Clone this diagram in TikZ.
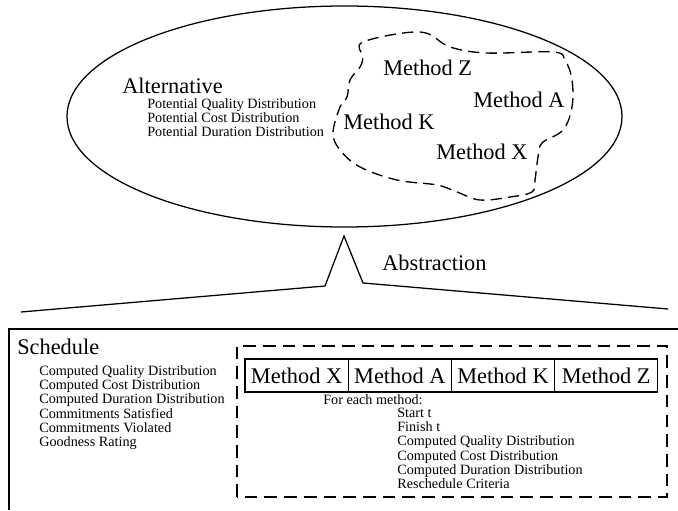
\documentclass[tikz,border=0pt]{standalone}
\usepackage{fontspec}
\setmainfont{Liberation Serif}
\usetikzlibrary{positioning, shapes.geometric}

\tikzset{
  bigtxt/.style={font=\fontsize{15.9}{18}\selectfont, inner sep=0pt},
  smalltxt/.style={font=\fontsize{10.1}{9.96}\selectfont, inner sep=0pt, align=left},
  blobdash/.style={line width=0.95pt, dash pattern=on 8pt off 4.5pt},
  boxdash/.style={line width=0.95pt, dash pattern=on 9pt off 5pt},
  methodbox/.style={draw, line width=0.9pt, font=\fontsize{15.9}{18}\selectfont,
    minimum width=2.58cm, minimum height=0.825cm, inner sep=0pt, outer sep=0pt}
}

\begin{document}
\begin{tikzpicture}
        \useasboundingbox (0,0) rectangle (16.95,12.75);

        % Alternative ellipse
        \node[draw, ellipse, line width=0.9pt, minimum width=13.875cm,
            minimum height=5.525cm] (alt) at (8.6125, 9.8375) {};

        \node[bigtxt, anchor=base west] (altname) at (3.05, 10.4) {Alternative};
        % base of a multi-line node = last line
        \node[smalltxt, anchor=base west] (altlist) at (3.675, 9.325)
            {Potential Quality Distribution\\
             Potential Cost Distribution\\
             Potential Duration Distribution};

        % Dashed cloud of methods
        \draw[blobdash] plot[smooth cycle, tension=0.6] coordinates {
            (9.075, 11.7) (10.5, 11.95) (11.25, 11.575) (12.175, 11.425)
            (13.825, 11.45) (14.125, 11.25) (14.3, 10.75) (14.3, 10.075)
            (14.075, 9.5) (13.55, 9.175) (13.45, 8.825) (13.375, 8.25)
            (13.3, 7.95) (12.75, 7.825) (12.0, 7.75) (11.425, 7.95)
            (10.925, 8.125) (9.925, 8.25) (9.0, 8.575) (8.5, 9.0)
            (8.325, 9.425) (8.5, 10.075) (8.675, 10.325) (8.75, 10.75)
            (9.0, 11.075) (9.075, 11.325)};

        \node[bigtxt, anchor=base west] (cz) at (9.575, 10.85) {Method Z};
        \node[bigtxt, anchor=base west] (ca) at (11.825, 10.05) {Method A};
        \node[bigtxt, anchor=base west] (ck) at (8.575, 9.525) {Method K};
        \node[bigtxt, anchor=base west] (cx) at (10.9, 8.775) {Method X};

        % Abstraction callout
        \coordinate (leftend) at (0.525, 4.95);
        \coordinate (leftfoot) at (8.125, 5.6);
        \coordinate (peak) at (8.6, 6.85);
        \coordinate (rightfoot) at (9.075, 5.675);
        \coordinate (rightend) at (16.7, 5.025);
        \draw[line width=0.9pt] (leftend) -- (leftfoot) -- (peak)
            -- (rightfoot) -- (rightend);
        \node[bigtxt, anchor=base west] (abstr) at (9.55, 6.0) {Abstraction};

        % Schedule box (open at bottom and right)
        \draw[line width=1pt] (0.225, 0) -- (0.225, 4.525) -- (16.95, 4.525);

        \node[bigtxt, anchor=base west] (sched) at (0.425, 3.9) {Schedule};
        \node[smalltxt, anchor=base west] (schedlist) at (0.975, 1.6)
            {Computed Quality Distribution\\
             Computed Cost Distribution\\
             Computed Duration Distribution\\
             Commitments Satisfied\\
             Commitments Violated\\
             Goodness Rating};

        % Dashed frame with the method sequence
        \draw[boxdash] (5.925, 0.325) rectangle (16.675, 4.1);

        \node[methodbox, anchor=north west] (mx) at (6.125, 3.775) {Method X};
        \node[methodbox, right=0pt of mx] (ma) {Method A};
        \node[methodbox, right=0pt of ma] (mk) {Method K};
        \node[methodbox, right=0pt of mk] (mz) {Method Z};

        \node[smalltxt, anchor=base west] (foreach) at (8.075, 2.65) {For each method:};
        \node[smalltxt, anchor=base west] (methlist) at (9.925, 0.55)
            {Start t\\
             Finish t\\
             Computed Quality Distribution\\
             Computed Cost Distribution\\
             Computed Duration Distribution\\
             Reschedule Criteria};

    \end{tikzpicture}
\end{document}
